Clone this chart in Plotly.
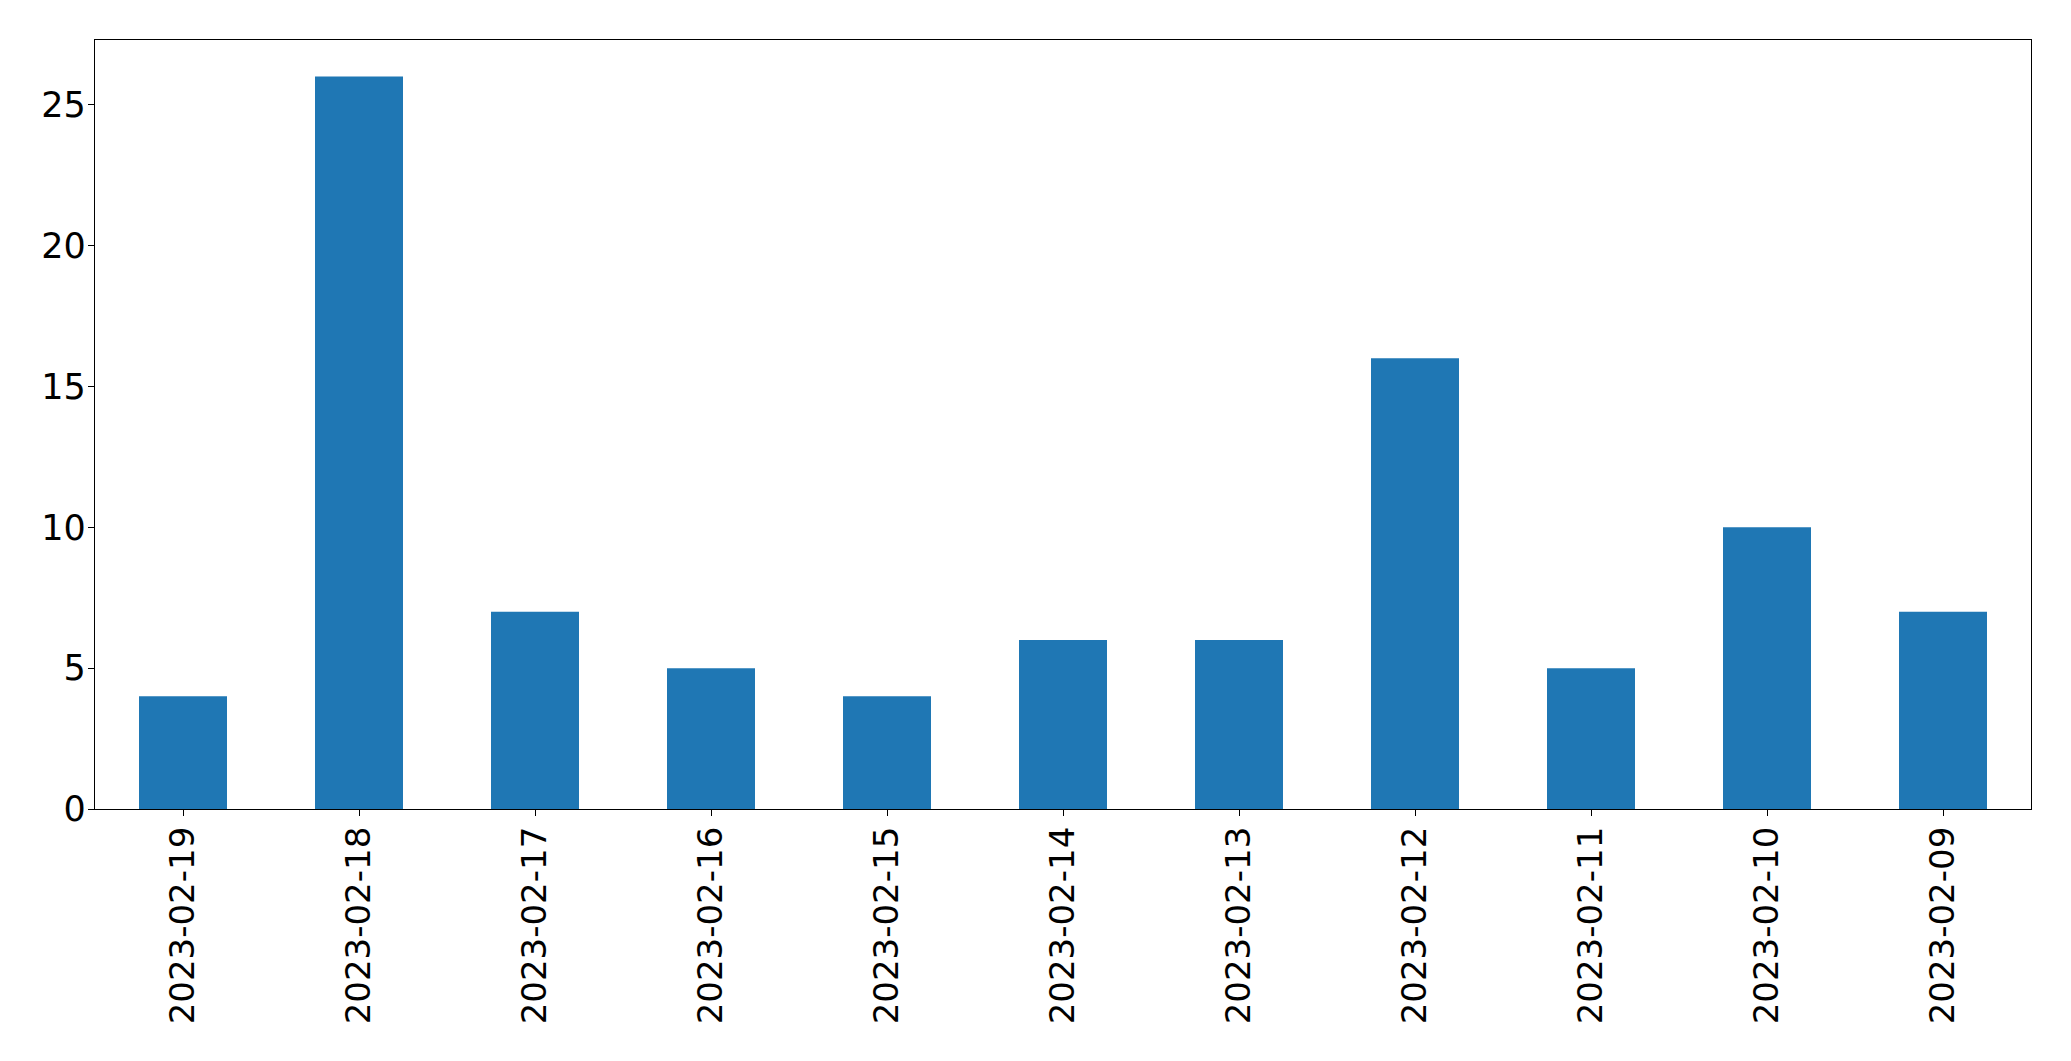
import plotly.graph_objects as go

dates = ["2023-02-19", "2023-02-18", "2023-02-17", "2023-02-16", "2023-02-15",
         "2023-02-14", "2023-02-13", "2023-02-12", "2023-02-11", "2023-02-10", "2023-02-09"]
counts = [4, 26, 7, 5, 4, 6, 6, 16, 5, 10, 7]

fig = go.Figure(go.Bar(x=dates, y=counts, width=0.5, marker_color="#1f77b4",
                       marker_line_width=0))

xfont = dict(family="DejaVu Sans", size=34, color="black")
yfont = dict(family="DejaVu Sans", size=35, color="black")
fig.update_layout(
    width=2071, height=1061,
    margin=dict(l=95, r=40, t=40, b=252),
    paper_bgcolor="white", plot_bgcolor="white",
    showlegend=False,
    font=xfont,
)
fig.update_xaxes(type="category", range=[-0.5, 10.5], showline=True, mirror=True,
                 linecolor="black", linewidth=1.3, ticks="outside", ticklen=6,
                 tickcolor="black", tickwidth=1.3, tickangle=-90, showgrid=False,
                 tickfont=xfont, ticklabelstandoff=-3)
fig.update_yaxes(range=[0, 27.3], showline=True, mirror=True, linecolor="black",
                 linewidth=1.3, ticks="outside", ticklen=6, tickcolor="black",
                 tickwidth=1.3, tickvals=[0, 5, 10, 15, 20, 25], showgrid=False,
                 zeroline=False, tickfont=yfont, ticklabelstandoff=-5)

fig.write_html("out.html")
